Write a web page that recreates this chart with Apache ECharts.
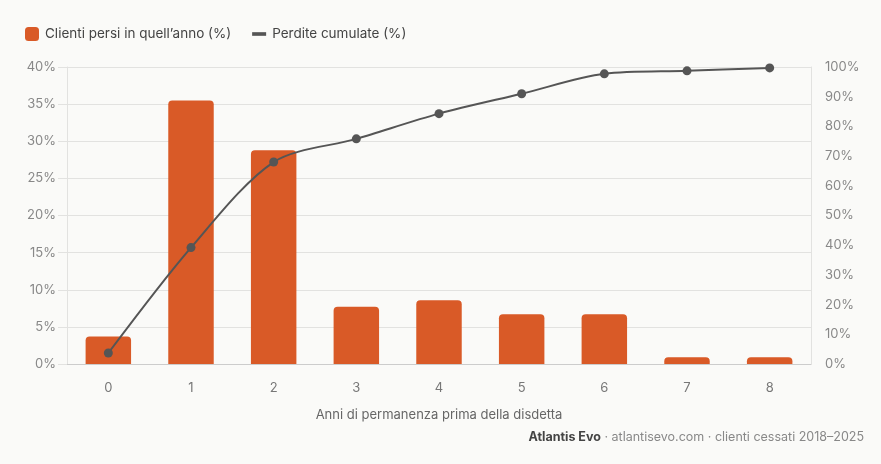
<!DOCTYPE html>
<html lang="it">
<head>
    <meta charset="UTF-8">
    <title>Clienti persi per anno di permanenza</title>
    <script src="https://cdn.jsdelivr.net/npm/echarts@6/dist/echarts.min.js"></script>
    <style>
        html, body { margin: 0; padding: 0; background: #fafaf8; }
        #chart { width: 881px; height: 464px; }
    </style>
</head>
<body>
    <div id="chart"></div>
<script>
    // dati
    var anni = ["0", "1", "2", "3", "4", "5", "6", "7", "8"];
    var persi = [3.7, 35.5, 28.8, 7.7, 8.6, 6.7, 6.7, 0.9, 0.9];
    var cumulate = [3.7, 39.2, 68.0, 75.8, 84.3, 91.0, 97.7, 98.7, 99.7];
    var tickSx = [0, 5, 10, 15, 20, 25, 30, 35, 40];

    var font = "Inter, 'Noto Sans', sans-serif";
    var chart = echarts.init(document.getElementById("chart"));

    var option = {
        backgroundColor: "#fafaf8",
        textStyle: { fontFamily: font },
        legend: {
            left: 20,
            top: 22,
            itemWidth: 14,
            itemHeight: 14,
            itemGap: 21,
            textStyle: { color: "#444", fontSize: 13.5, fontFamily: font, padding: [0, 0, 0, 1] },
            data: [
                { name: "Clienti persi in quell’anno (%)", icon: "roundRect" },
                { name: "Perdite cumulate (%)", icon: "path://M0,0 H10 V2.6 H0 Z", itemStyle: { color: "#555" } }
            ]
        },
        grid: { left: 67, right: 70, top: 67, bottom: 100 },
        xAxis: {
            type: "category",
            data: anni,
            name: "Anni di permanenza prima della disdetta",
            nameLocation: "middle",
            nameGap: 45,
            nameTextStyle: { color: "#666", fontSize: 13 },
            axisLine: { lineStyle: { color: "#ccc" } },
            axisTick: { show: false },
            axisLabel: { color: "#777", fontSize: 13, margin: 18 }
        },
        yAxis: [{
            type: "value",
            min: 0,
            max: tickSx[tickSx.length - 1],
            interval: 5,
            axisLine: { show: true, lineStyle: { color: "#e2e2e0" } },
            axisTick: { show: true, length: 9, lineStyle: { color: "#e2e2e0" } },
            splitLine: { lineStyle: { color: "#e2e2e0" } },
            axisLabel: { color: "#888", fontSize: 13, margin: 11, formatter: "{value}%" }
        }, {
            type: "value",
            min: 0,
            max: 100,
            interval: 10,
            axisLine: { show: true, lineStyle: { color: "#e2e2e0" } },
            axisTick: { show: false },
            splitLine: { show: false },
            axisLabel: { color: "#888", fontSize: 13, margin: 14, formatter: "{value}%" }
        }],
        series: [{
            name: "Clienti persi in quell’anno (%)",
            type: "bar",
            data: persi,
            barWidth: "55%",
            itemStyle: { color: "#d95a27", borderRadius: [4, 4, 0, 0] }
        }, {
            name: "Perdite cumulate (%)",
            type: "line",
            yAxisIndex: 1,
            data: cumulate,
            smooth: 0.3,
            symbol: "circle",
            symbolSize: 9,
            lineStyle: { color: "#555", width: 2 },
            itemStyle: { color: "#555" }
        }],
        graphic: [{
            type: "text",
            right: 17,
            top: 431,
            style: {
                text: "{b|Atlantis Evo} · atlantisevo.com · clienti cessati 2018–2025",
                fill: "#888",
                font: "12.5px " + font,
                rich: { b: { fontWeight: "bold", fill: "#444", fontSize: 12.5, fontFamily: font } }
            }
        }]
    };
    chart.setOption(option);
</script>
</body>
</html>
